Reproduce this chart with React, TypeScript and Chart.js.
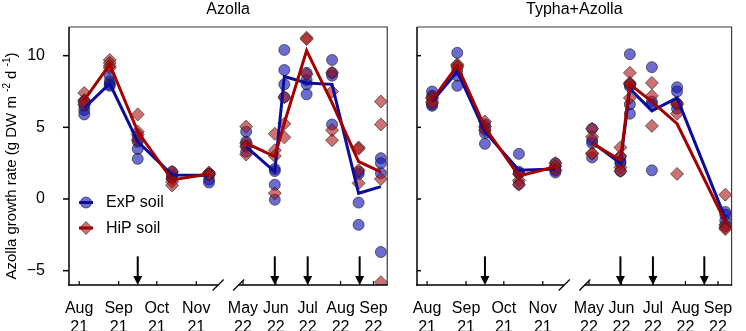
import React, { useEffect, useRef } from 'react';
import { Chart, registerables } from 'chart.js';
Chart.register(...registerables);

const FONT = '"Liberation Sans", Arial, Helvetica, sans-serif';

// ---- sampling dates ----
const dates21 = ['2021-08-05', '2021-08-25', '2021-09-16', '2021-10-13', '2021-11-11'];
const datesAz22 = ['2022-05-04', '2022-05-31', '2022-06-09', '2022-06-30', '2022-07-24', '2022-08-18', '2022-09-08'];
const datesTy22 = ['2022-05-04', '2022-05-31', '2022-06-09', '2022-06-30', '2022-07-24', '2022-09-08'];

// ---- axis ticks / ranges ----
const range21 = ['2021-07-24', '2021-11-26'];
const range22 = ['2022-04-17', '2022-09-14'];
const monthTicks21 = ['2021-08-01', '2021-09-01', '2021-10-01', '2021-11-01'];
const monthLabels21 = [['Aug', '21'], ['Sep', '21'], ['Oct', '21'], ['Nov', '21']];
const monthTicks22 = ['2022-05-01', '2022-06-01', '2022-07-01', '2022-08-01', '2022-09-01'];
const monthLabels22 = [['May', '22'], ['Jun', '22'], ['Jul', '22'], ['Aug', '22'], ['Sep', '22']];
const yTicks = [-5, 0, 5, 10];
const yRange = [-6, 12];

// ---- harvest arrows ----
const arrowDates21 = ['2021-09-16'];
const arrowDates22 = ['2022-05-31', '2022-07-01', '2022-08-19'];

// ---- Azolla panel ----
const azExpPts21 = [[6.8, 6.5, 6.2, 5.9], [8.6, 8.2, 8.0, 7.9], [4.3, 4.0, 3.5, 2.8], [1.9, 1.7, 1.5, 1.5], [1.75, 1.7, 1.35, 1.15]];
const azHipPts21 = [[7.4, 6.9, 6.8, 6.6], [9.7, 9.5, 9.3, 9.15], [5.9, 4.7, 4.5, 4.1], [1.9, 1.4, 1.2, 0.95], [1.85, 1.75, 1.7]];
const azExpMean21 = [6.35, 8.05, 4.0, 1.68, 1.65];
const azHipMean21 = [6.9, 9.4, 4.7, 1.33, 1.75];
const azExpPts22 = [[4.7, 4.0, 3.7, 3.3], [2.1, 1.95, 1.0, -0.05], [10.4, 9.0, 8.0, 7.1], [8.8, 8.3, 8.0, 7.3], [9.7, 8.8, 8.6, 5.2], [1.9, 1.75, -0.25, -1.8], [2.85, 2.5, 1.8, -3.7]];
const azHipPts22 = [[5.05, 3.9, 3.65, 3.1], [4.55, 3.4, 3.0, 0.4], [7.1, 5.25, 4.3], [11.25, 11.15, 8.7], [8.8, 7.5, 4.8, 4.1], [3.6, 3.5, 2.0, 1.1], [6.8, 5.2, 1.4, -5.8]];
const azExpMean22 = [3.65, 1.9, 8.55, 8.1, 8.0, 0.4, 0.86];
const azHipMean22 = [3.9, 2.95, 5.3, 10.35, 6.7, 2.6, 1.9];

// ---- Typha+Azolla panel ----
const tyExpPts21 = [[7.5, 7.2, 6.6, 6.5], [10.2, 9.0, 8.6, 7.9], [5.2, 4.9, 4.6, 3.85], [3.15, 1.9, 1.8, 1.05], [2.5, 2.2, 2.0, 1.85]];
const tyHipPts21 = [[7.1, 7.0, 6.8, 6.7], [9.4, 9.3, 9.2], [5.4, 5.05, 4.8], [1.75, 1.3, 1.0], [2.5, 2.3, 2.0]];
const tyExpMean21 = [6.8, 8.9, 4.7, 2.0, 2.1];
const tyHipMean21 = [6.9, 9.3, 5.0, 1.6, 2.25];
const tyExpPts22 = [[4.9, 4.1, 3.9, 2.9], [2.9, 2.6, 2.5, 1.95], [10.1, 8.0, 7.85, 6.6, 5.95], [9.2, 6.8, 6.6, 2.0], [7.8, 7.5, 6.65, 6.3], [-0.9, -1.1, -1.5, -1.9]];
const tyHipPts22 = [[4.9, 4.35, 3.2, 3.15], [3.6, 3.0, 2.2, 1.95], [8.8, 8.1, 8.0, 7.05], [8.1, 7.2, 5.1], [6.7, 6.6, 5.95, 1.75], [0.3, -1.8, -2.0, -2.1]];
const tyExpMean22 = [3.95, 2.5, 7.7, 6.15, 7.05, -1.35];
const tyHipMean22 = [3.9, 2.7, 8.0, 6.8, 5.25, -1.6];

// ---- styles ----
const blueFill = 'rgba(20,20,180,0.62)';
const redFill = 'rgba(170,20,20,0.6)';
const edge = 'rgba(25,25,25,0.6)';
const blueLine = '#0c0c9c';
const redLine = '#a30000';

const day = (s: string) => Date.parse(s + 'T00:00:00Z') / 86400000;
const ptsData = (dates: string[], pts: number[][]) =>
  pts.flatMap((arr, i) => arr.map((v) => ({ x: day(dates[i]), y: v })));
const lineData = (dates: string[], m: number[]) => m.map((v, i) => ({ x: day(dates[i]), y: v }));

type Panel = {
  title: string;
  main: boolean;
  dates22: string[];
  exp21: number[][]; hip21: number[][]; expM21: number[]; hipM21: number[];
  exp22: number[][]; hip22: number[][]; expM22: number[]; hipM22: number[];
};

function decoPlugin(p: Panel) {
  return {
    id: 'deco',
    afterDraw(chart: any) {
      const ctx = chart.ctx;
      const { left, right, top, bottom } = chart.chartArea;
      const x1 = chart.scales.x1, x2 = chart.scales.x2, y = chart.scales.y;
      ctx.save();
      // top & right frame
      ctx.strokeStyle = '#3a3a3a';
      ctx.lineWidth = 1.2;
      ctx.beginPath();
      ctx.moveTo(left, top); ctx.lineTo(right, top); ctx.lineTo(right, bottom);
      ctx.stroke();
      // left axis
      ctx.strokeStyle = '#000';
      ctx.lineWidth = 1.5;
      ctx.beginPath(); ctx.moveTo(left, top); ctx.lineTo(left, bottom + 0.75); ctx.stroke();
      // y ticks
      for (const t of yTicks) {
        const py = y.getPixelForValue(t);
        ctx.beginPath();
        if (p.main) { ctx.moveTo(left - 6, py); ctx.lineTo(left, py); }
        else { ctx.moveTo(left, py); ctx.lineTo(left + 4, py); }
        ctx.stroke();
      }
      // bottom axis with break
      const split = x1.right;
      const e1 = split - 10, s2 = split + 10.5;
      ctx.beginPath();
      ctx.moveTo(left - 0.75, bottom); ctx.lineTo(e1, bottom);
      ctx.moveTo(s2, bottom); ctx.lineTo(right + 0.6, bottom);
      ctx.stroke();
      ctx.lineWidth = 1.3;
      for (const cx of [e1, s2]) {
        ctx.beginPath(); ctx.moveTo(cx - 5.5, bottom + 5.5); ctx.lineTo(cx + 5.5, bottom - 5.5); ctx.stroke();
      }
      // x ticks (inward)
      ctx.lineWidth = 1.2;
      const xt: [any, string[]][] = [[x1, monthTicks21], [x2, monthTicks22]];
      for (const [sc, ticks] of xt) {
        for (const d of ticks) {
          const px = sc.getPixelForValue(day(d));
          ctx.beginPath(); ctx.moveTo(px, bottom); ctx.lineTo(px, bottom - 4); ctx.stroke();
        }
      }
      // arrows
      const ay = y.getPixelForValue(-4);
      const ar: [any, string[]][] = [[x1, arrowDates21], [x2, arrowDates22]];
      ctx.fillStyle = '#000';
      for (const [sc, ds] of ar) {
        for (const d of ds) {
          const px = sc.getPixelForValue(day(d));
          ctx.lineWidth = 2;
          ctx.beginPath(); ctx.moveTo(px, ay); ctx.lineTo(px, bottom - 8); ctx.stroke();
          ctx.beginPath(); ctx.moveTo(px - 4.5, bottom - 9); ctx.lineTo(px + 4.5, bottom - 9); ctx.lineTo(px, bottom); ctx.closePath(); ctx.fill();
        }
      }
      // panel title
      ctx.fillStyle = '#000';
      ctx.font = `16px ${FONT}`;
      ctx.textAlign = 'center';
      ctx.textBaseline = 'alphabetic';
      ctx.fillText(p.title, (left + right) / 2, 14);

      if (p.main) {
        // legend
        const lx = 86;
        const rows = [
          { y: 202.5, label: 'ExP soil', style: 'circle', fill: blueFill, line: blueLine },
          { y: 228, label: 'HiP soil', style: 'diamond', fill: redFill, line: redLine },
        ];
        for (const r of rows) {
          ctx.fillStyle = r.fill;
          ctx.strokeStyle = edge;
          ctx.lineWidth = 1;
          ctx.beginPath();
          if (r.style === 'circle') ctx.arc(lx, r.y, 5.5, 0, Math.PI * 2);
          else { ctx.moveTo(lx, r.y - 6.5); ctx.lineTo(lx + 6.5, r.y); ctx.lineTo(lx, r.y + 6.5); ctx.lineTo(lx - 6.5, r.y); ctx.closePath(); }
          ctx.fill(); ctx.stroke();
          ctx.strokeStyle = r.line;
          ctx.lineWidth = 3;
          ctx.beginPath(); ctx.moveTo(lx - 7, r.y); ctx.lineTo(lx + 7, r.y); ctx.stroke();
          ctx.fillStyle = '#000';
          ctx.font = `16px ${FONT}`;
          ctx.textAlign = 'left';
          ctx.textBaseline = 'middle';
          ctx.fillText(r.label, 106, r.y + 0.5);
        }
        // y axis title with superscripts
        const parts = [
          { t: 'Azolla growth rate (g DW m ', sup: false },
          { t: '-2', sup: true },
          { t: ' d ', sup: false },
          { t: '-1', sup: true },
          { t: ')', sup: false },
        ];
        const big = `15px ${FONT}`, small = `10px ${FONT}`;
        let total = 0;
        for (const pt of parts) { ctx.font = pt.sup ? small : big; total += ctx.measureText(pt.t).width; }
        ctx.translate(12, 166);
        ctx.rotate(-Math.PI / 2);
        ctx.textAlign = 'left';
        ctx.textBaseline = 'middle';
        let cx = -total / 2;
        for (const pt of parts) {
          ctx.font = pt.sup ? small : big;
          ctx.fillText(pt.t, cx, pt.sup ? -5 : 0);
          cx += ctx.measureText(pt.t).width;
        }
      }
      ctx.restore();
    },
  };
}

function makeConfig(p: Panel) {
  const lineDs = (data: any, axis: string, color: string, order: number) => ({
    data, xAxisID: axis, yAxisID: 'y', showLine: true, borderColor: color, borderWidth: 3,
    pointRadius: 0, tension: 0, fill: false, order,
  });
  const ptDs = (data: any, axis: string, circle: boolean) => ({
    data, xAxisID: axis, yAxisID: 'y', showLine: false,
    pointStyle: circle ? 'circle' : 'rectRot', pointRadius: circle ? 5.5 : 6.5,
    backgroundColor: circle ? blueFill : redFill, borderColor: edge, borderWidth: 1,
    pointBackgroundColor: circle ? blueFill : redFill, pointBorderColor: edge,
    order: circle ? 3 : 2,
  });
  const xScale = (range: string[], ticks: string[], labels: string[][]) => ({
    type: 'linear', position: 'bottom', stack: 'xs', stackWeight: 1,
    min: day(range[0]), max: day(range[1]),
    grid: { display: false }, border: { display: false },
    afterBuildTicks: (s: any) => { s.ticks = ticks.map((d) => ({ value: day(d) })); },
    afterFit: (s: any) => { s.height = 46; },
    ticks: {
      autoSkip: false, maxRotation: 0, minRotation: 0, padding: 6, color: '#000',
      font: { family: FONT, size: 16, lineHeight: 1.2 },
      callback: (_v: any, i: number) => labels[i],
    },
  });
  return {
    type: 'scatter',
    data: {
      datasets: [
        lineDs(lineData(dates21, p.hipM21), 'x1', redLine, 0),
        lineDs(lineData(p.dates22, p.hipM22), 'x2', redLine, 0),
        lineDs(lineData(dates21, p.expM21), 'x1', blueLine, 1),
        lineDs(lineData(p.dates22, p.expM22), 'x2', blueLine, 1),
        ptDs(ptsData(dates21, p.hip21), 'x1', false),
        ptDs(ptsData(p.dates22, p.hip22), 'x2', false),
        ptDs(ptsData(dates21, p.exp21), 'x1', true),
        ptDs(ptsData(p.dates22, p.exp22), 'x2', true),
      ],
    },
    options: {
      animation: false,
      responsive: false,
      devicePixelRatio: 1,
      events: [],
      layout: { padding: p.main ? { left: 0, top: 27, right: 4, bottom: 0 } : { left: 17, top: 27, right: 3, bottom: 0 } },
      plugins: { legend: { display: false }, tooltip: { enabled: false }, title: { display: false } },
      scales: {
        x1: xScale(range21, monthTicks21, monthLabels21),
        x2: xScale(range22, monthTicks22, monthLabels22),
        y: {
          type: 'linear', position: 'left', display: p.main,
          min: yRange[0], max: yRange[1],
          grid: { display: false }, border: { display: false },
          afterBuildTicks: (s: any) => { s.ticks = yTicks.map((v) => ({ value: v })); },
          afterFit: (s: any) => { s.width = p.main ? 69 : 0; },
          ticks: {
            padding: 16, color: '#000', font: { family: FONT, size: 16 },
            callback: (v: any) => String(v).replace('-', '\u2212'),
          },
        },
      },
    },
    plugins: [decoPlugin(p)],
  } as any;
}

function PanelChart({ p, left, width }: { p: Panel; left: number; width: number }) {
  const ref = useRef<HTMLCanvasElement | null>(null);
  useEffect(() => {
    if (!ref.current) return;
    const chart = new Chart(ref.current, makeConfig(p));
    return () => chart.destroy();
  }, []);
  return (
    <div style={{ position: 'absolute', left, top: 0, width, height: 331 }}>
      <canvas ref={ref} width={width} height={331} style={{ display: 'block', width, height: 331 }} />
    </div>
  );
}

const azPanel: Panel = {
  title: 'Azolla', main: true, dates22: datesAz22,
  exp21: azExpPts21, hip21: azHipPts21, expM21: azExpMean21, hipM21: azHipMean21,
  exp22: azExpPts22, hip22: azHipPts22, expM22: azExpMean22, hipM22: azHipMean22,
};
const tyPanel: Panel = {
  title: 'Typha+Azolla', main: false, dates22: datesTy22,
  exp21: tyExpPts21, hip21: tyHipPts21, expM21: tyExpMean21, hipM21: tyHipMean21,
  exp22: tyExpPts22, hip22: tyHipPts22, expM22: tyExpMean22, hipM22: tyHipMean22,
};

export default function App() {
  return (
    <div style={{ position: 'absolute', left: 0, top: 0, width: 746, height: 331, background: '#fff', overflow: 'hidden' }}>
      <PanelChart p={azPanel} left={0} width={400} />
      <PanelChart p={tyPanel} left={400} width={346} />
    </div>
  );
}
